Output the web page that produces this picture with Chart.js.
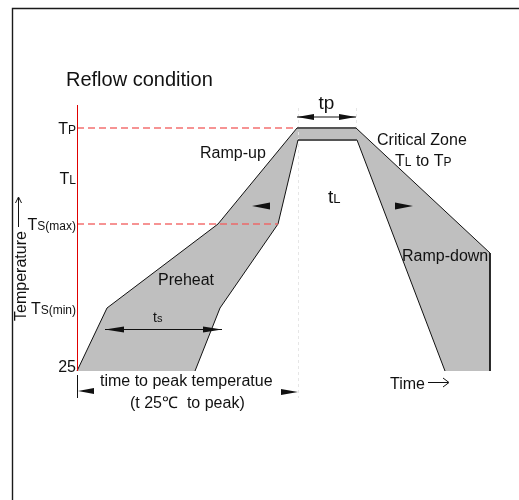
<!DOCTYPE html>
<html>
<head>
<meta charset="utf-8">
<script src="https://cdn.jsdelivr.net/npm/chart.js@4/dist/chart.umd.min.js"></script>
<style>
  html, body { margin: 0; padding: 0; background: #fff; }
  #chart { display: block; }
</style>
</head>
<body>
<canvas id="chart" width="519" height="500"></canvas>
<script>
// Reflow profile band: outer (hot side) edge, then inner edge coming back
const outerTime = [0, 30, 141, 220, 279, 413, 413];
const outerTemp = [25, 88, 172, 268, 268, 143, 25];
const innerTime = [368, 280, 221, 201, 143, 118];
const innerTemp = [25, 256, 256, 172, 88, 25];

// temperature axis labels (big letter + small suffix)
const tickMain = ["T", "T", "T", "T", "25"];
const tickSub = ["P", "L", "S(max)", "S(min)", ""];
const tickTemps = [268, 218, 172, 88, 25];

// red dashed guide lines: level and where they stop
const guideTemps = [268, 172];
const guideEnds = [220, 201];

const FONT = "'Liberation Sans', Arial, Helvetica, sans-serif";

const band = [];
outerTime.forEach((t, i) => band.push({ x: t, y: outerTemp[i] }));
innerTime.forEach((t, i) => band.push({ x: t, y: innerTemp[i] }));
band.push({ x: outerTime[0], y: outerTemp[0] });

// edges along the bottom are not outlined, the flat peak edges are grey
const openEdges = [outerTime.length - 1, band.length - 2];
const peakEdges = [3, outerTime.length + 1];

const guides = guideTemps.map((t, i) => ({
  type: "scatter",
  showLine: true,
  data: [{ x: 0, y: t }, { x: guideEnds[i], y: t }],
  borderColor: "rgba(242,96,96,0.9)",
  borderWidth: 1.6,
  borderDash: [7, 4],
  pointRadius: 0,
  clip: false,
  order: 1,
}));
const BAND = guides.length;

function arrowHead(ctx, tipX, y, dir, len = 17, half = 3) {
  ctx.beginPath();
  ctx.moveTo(tipX, y);
  ctx.lineTo(tipX + dir * len, y - half);
  ctx.lineTo(tipX + dir * len, y + half);
  ctx.closePath();
  ctx.fill();
}

function subText(ctx, big, small, x, base, bigSize, smallSize, align) {
  ctx.font = `${bigSize}px ${FONT}`;
  const w1 = ctx.measureText(big).width;
  ctx.font = `${smallSize}px ${FONT}`;
  const w2 = ctx.measureText(small).width;
  const left = align === "right" ? x - w1 - w2 : x;
  ctx.textAlign = "left";
  ctx.textBaseline = "alphabetic";
  ctx.font = `${bigSize}px ${FONT}`;
  ctx.fillText(big, left, base);
  ctx.font = `${smallSize}px ${FONT}`;
  ctx.fillText(small, left + w1, base);
  return left + w1 + w2;
}

const decor = {
  id: "decor",
  beforeDatasetsDraw(chart) {
    const { ctx, scales: { x } } = chart;
    ctx.save();
    // frame
    ctx.strokeStyle = "#1a1a1a";
    ctx.lineWidth = 1.4;
    ctx.beginPath();
    ctx.moveTo(12.5, 500);
    ctx.lineTo(12.5, 8.5);
    ctx.lineTo(519, 8.5);
    ctx.stroke();
    // band fill, traced through the dataset's own points
    const pts = chart.getDatasetMeta(BAND).data;
    ctx.fillStyle = "#bfbfbf";
    ctx.beginPath();
    pts.forEach((p, i) => (i ? ctx.lineTo(p.x, p.y) : ctx.moveTo(p.x, p.y)));
    ctx.closePath();
    ctx.fill();
    // faint construction lines
    ctx.strokeStyle = "#e6e6e6";
    ctx.lineWidth = 1;
    ctx.setLineDash([3, 3]);
    ctx.beginPath();
    ctx.moveTo(Math.round(x.getPixelForValue(221)) + 0.5, 108);
    ctx.lineTo(Math.round(x.getPixelForValue(221)) + 0.5, 398);
    ctx.moveTo(Math.round(x.getPixelForValue(279)) + 0.5, 108);
    ctx.lineTo(Math.round(x.getPixelForValue(279)) + 0.5, 128);
    ctx.stroke();
    ctx.restore();
  },
  afterDatasetsDraw(chart) {
    const { ctx, scales: { x, y } } = chart;
    const X = v => x.getPixelForValue(v);
    const Y = v => y.getPixelForValue(v);
    ctx.save();

    // red temperature axis
    ctx.strokeStyle = "#e00000";
    ctx.lineWidth = 1;
    ctx.beginPath();
    ctx.moveTo(Math.round(X(0)) + 0.5, chart.chartArea.top);
    ctx.lineTo(Math.round(X(0)) + 0.5, Y(25));
    ctx.stroke();

    // axis labels
    ctx.fillStyle = "#111";
    tickTemps.forEach((t, i) => {
      const off = tickSub[i] ? 6 : 1;
      subText(ctx, tickMain[i], tickSub[i], X(0) - 1, Y(t) + off, 16, 12, "right");
    });

    ctx.textBaseline = "alphabetic";
    ctx.textAlign = "left";
    ctx.font = `20px ${FONT}`;
    ctx.fillText("Reflow condition", 66, 86);

    ctx.font = `16px ${FONT}`;
    ctx.fillText("Ramp-up", 200, 158);
    ctx.fillText("Critical Zone", 377, 145);
    ctx.fillText("Preheat", 158, 285);
    ctx.fillText("Ramp-down", 402, 261);
    ctx.fillText("time to peak temperatue", 100, 386);
    ctx.fillText("(t 25\u2103  to peak)", 130, 408);
    ctx.fillText("Time", 390, 389);

    let e = subText(ctx, "T", "L", 395, 166, 16, 12, "left");
    subText(ctx, " to T", "P", e, 166, 16, 12, "left");

    subText(ctx, "t", "L", 328, 203, 19, 13, "left");
    ctx.textAlign = "center";
    ctx.font = `19px ${FONT}`;
    ctx.fillText("tp", X(249.5), 109);
    subText(ctx, "t", "s", 153, 322, 14, 11, "left");

    // rotated axis title
    ctx.save();
    ctx.translate(25.5, 276);
    ctx.rotate(-Math.PI / 2);
    ctx.textAlign = "center";
    ctx.font = `16px ${FONT}`;
    ctx.fillText("Temperature", 0, 0);
    ctx.restore();

    ctx.strokeStyle = "#111";
    ctx.lineWidth = 1;
    // temperature arrow
    ctx.beginPath();
    ctx.moveTo(18.5, 227);
    ctx.lineTo(18.5, 198);
    ctx.moveTo(15.5, 203);
    ctx.lineTo(18.5, 197);
    ctx.lineTo(21.5, 203);
    ctx.stroke();
    // time arrow
    ctx.beginPath();
    ctx.moveTo(428, 382.5);
    ctx.lineTo(448, 382.5);
    ctx.moveTo(443, 378);
    ctx.lineTo(449, 382.5);
    ctx.lineTo(443, 387);
    ctx.stroke();

    // tp dimension
    const tpY = Y(268) - 11;
    ctx.beginPath();
    ctx.moveTo(X(220), tpY);
    ctx.lineTo(X(279), tpY);
    ctx.stroke();
    arrowHead(ctx, X(220), tpY, 1, 17, 3);
    arrowHead(ctx, X(279), tpY, -1, 17, 3);

    // ts dimension
    const tsY = Y(67) + 0.5;
    ctx.beginPath();
    ctx.moveTo(X(28), tsY);
    ctx.lineTo(X(145), tsY);
    ctx.stroke();
    arrowHead(ctx, X(28), tsY, 1, 19, 3);
    arrowHead(ctx, X(145), tsY, -1, 19, 3);

    // arrows inside the band
    arrowHead(ctx, X(175), Y(190), 1, 18, 3.5);
    arrowHead(ctx, X(336), Y(190), -1, 18, 3.5);

    // time to peak marker
    const bY = Y(5);
    ctx.beginPath();
    ctx.moveTo(Math.round(X(0)) + 0.5, Y(21));
    ctx.lineTo(Math.round(X(0)) + 0.5, Y(-2));
    ctx.stroke();
    arrowHead(ctx, X(0) + 1, bY, 1, 16, 3);
    arrowHead(ctx, X(221), bY + 1, -1, 17, 3);

    ctx.restore();
  }
};

new Chart(document.getElementById("chart"), {
  type: "scatter",
  data: {
    datasets: [
      ...guides,
      {
        data: band,
        showLine: true,
        fill: false,
        borderColor: "#111",
        borderWidth: 1,
        pointRadius: 0,
        clip: false,
        order: 2,
        segment: {
          borderColor: c => openEdges.includes(c.p0DataIndex) ? "rgba(0,0,0,0)"
            : peakEdges.includes(c.p0DataIndex) ? "#555" : "#111",
          borderWidth: c => peakEdges.includes(c.p0DataIndex) ? 2 : 1,
        },
      },
    ],
  },
  options: {
    responsive: false,
    animation: false,
    devicePixelRatio: 1,
    layout: { padding: { left: 77, right: 22, top: 105, bottom: 129 } },
    scales: {
      x: { type: "linear", min: 0, max: 420, display: false },
      y: { type: "linear", min: 25, max: 291, display: false },
    },
    plugins: { legend: { display: false }, tooltip: { enabled: false } },
  },
  plugins: [decor],
});
</script>
</body>
</html>
